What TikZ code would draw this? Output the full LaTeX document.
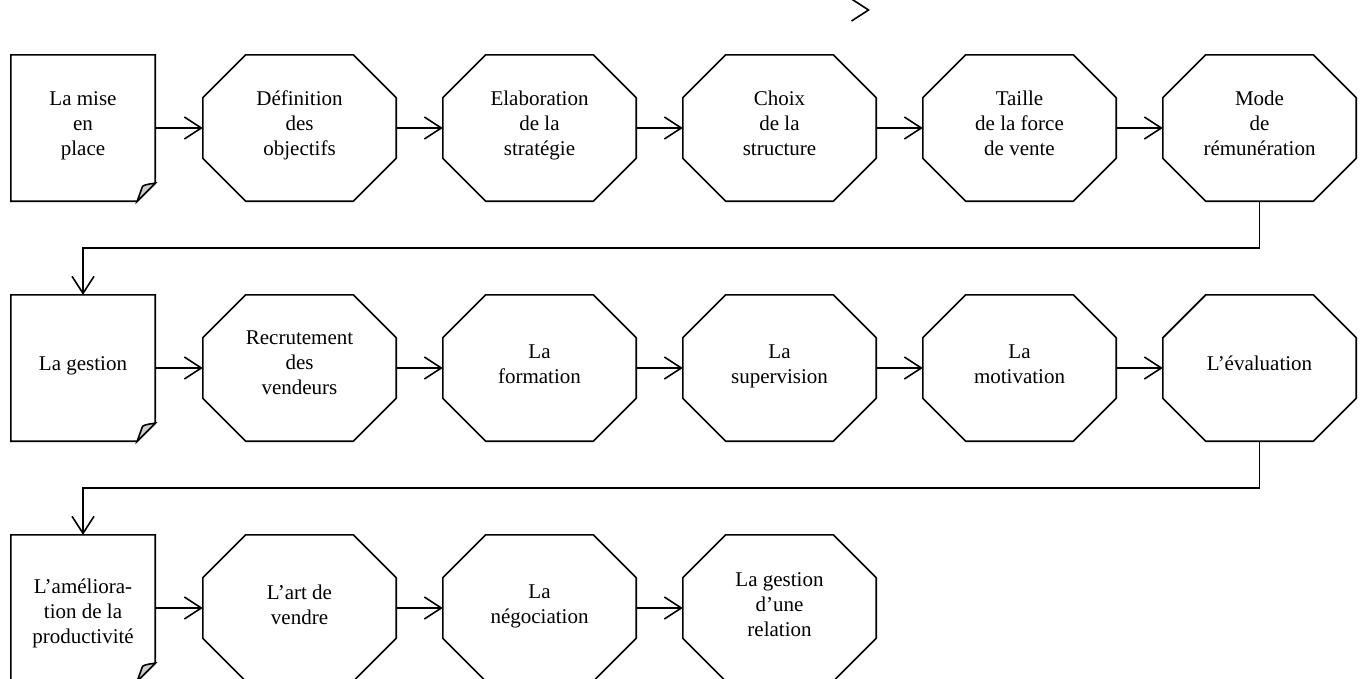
\documentclass[tikz,border=0pt]{standalone}
\usepackage{fontspec}
\setmainfont{Liberation Serif}
\usetikzlibrary{arrows.meta}
\begin{document}
\begin{tikzpicture}[x=1pt,y=-1pt,
  lw/.style={line width=1.6pt},
  arr/.style={lw,-{Straight Barb[length=17pt,width=22pt,line width=1.6pt]}},
  octbox/.style={draw=none,minimum width=193pt,minimum height=146pt,inner sep=0pt},
  notebox/.style={draw=none,minimum width=144pt,minimum height=146pt,inner sep=0pt},
  label/.style={align=center,inner sep=0pt,font=\fontsize{21}{25}\selectfont,
     execute at begin node=\strut, execute at end node=\strut},
  foldcol/.style={fill=black!20}
]
\useasboundingbox (0,0) rectangle (1363,678);
\newcommand{\octagon}[1]{%
  \draw[lw,line join=miter] ([xshift=43pt]#1.north west) -- ([xshift=-43pt]#1.north east)
   -- ([yshift=-43pt]#1.north east) -- ([yshift=43pt]#1.south east)
   -- ([xshift=-43pt]#1.south east) -- ([xshift=43pt]#1.south west)
   -- ([yshift=43pt]#1.south west) -- ([yshift=-43pt]#1.north west) -- cycle;}
\newcommand{\notepaper}[1]{%
  \draw[lw] (#1.south west) -- (#1.north west) -- (#1.north east)
   -- ([yshift=18pt]#1.south east) -- ([xshift=-18pt]#1.south east) -- cycle;
  \draw[lw,foldcol] ([yshift=18pt]#1.south east) .. controls ([xshift=-8pt,yshift=17pt]#1.south east) and ([xshift=-13pt,yshift=16pt]#1.south east) .. ([xshift=-13pt,yshift=14pt]#1.south east)
   -- ([xshift=-18pt]#1.south east) -- cycle;}
% row 1
\node[notebox] (a1) at (83,128) {};
\node[octbox] (a2) at (299.5,128) {};
\node[octbox] (a3) at (539.5,128) {};
\node[octbox] (a4) at (779.5,128) {};
\node[octbox] (a5) at (1019.5,128) {};
\node[octbox] (a6) at (1259.5,128) {};
% row 2
\node[notebox] (b1) at (83,368) {};
\node[octbox] (b2) at (299.5,368) {};
\node[octbox] (b3) at (539.5,368) {};
\node[octbox] (b4) at (779.5,368) {};
\node[octbox] (b5) at (1019.5,368) {};
\node[octbox] (b6) at (1259.5,368) {};
% row 3
\node[notebox] (c1) at (83,608) {};
\node[octbox] (c2) at (299.5,608) {};
\node[octbox] (c3) at (539.5,608) {};
\node[octbox] (c4) at (779.5,608) {};
\notepaper{a1}\notepaper{b1}\notepaper{c1}
\foreach \n in {a2,a3,a4,a5,a6,b2,b3,b4,b5,b6,c2,c3,c4}{\octagon{\n}}
% texts
\node[label] (ta1) at ([yshift=1pt]a1.center) {La mise\\en\\place};
\node[label] (ta2) at ([yshift=1pt]a2.center) {Définition\\des\\objectifs};
\node[label] (ta3) at ([yshift=1pt]a3.center) {Elaboration\\de la\\stratégie};
\node[label] (ta4) at ([yshift=1pt]a4.center) {Choix\\de la\\structure};
\node[label] (ta5) at ([yshift=1pt]a5.center) {Taille\\de la force\\de vente};
\node[label] (ta6) at ([yshift=1pt]a6.center) {Mode\\de\\rémunération};
\node[label] (tb1) at ([yshift=3pt]b1.center) {La gestion};
\node[label] (tb2) at ([yshift=2pt]b2.center) {Recrutement\\des\\vendeurs};
\node[label] (tb3) at ([yshift=0pt]b3.center) {La\\formation};
\node[label] (tb4) at ([yshift=0pt]b4.center) {La\\supervision};
\node[label] (tb5) at ([yshift=0pt]b5.center) {La\\motivation};
\node[label] (tb6) at ([yshift=3pt]b6.center) {L’évaluation};
\node[label] (tc1) at ([yshift=-7pt]c1.center) {L’améliora-\\tion de la\\productivité};
\node[label] (tc2) at ([yshift=0pt]c2.center) {L’art de\\vendre};
\node[label] (tc3) at ([yshift=0pt]c3.center) {La\\négociation};
\node[label] (tc4) at ([yshift=0pt]c4.center) {La gestion\\d’une\\relation};
% connectors
\draw[arr] (a1.east) -- (a2.west);
\draw[arr] (a2.east) -- (a3.west);
\draw[arr] (a3.east) -- (a4.west);
\draw[arr] (a4.east) -- (a5.west);
\draw[arr] (a5.east) -- (a6.west);
\draw[arr] (a6.south) -- ++(0,47) -| (b1.north);
\draw[arr] (b1.east) -- (b2.west);
\draw[arr] (b2.east) -- (b3.west);
\draw[arr] (b3.east) -- (b4.west);
\draw[arr] (b4.east) -- (b5.west);
\draw[arr] (b5.east) -- (b6.west);
\draw[arr] (b6.south) -- ++(0,47) -| (c1.north);
\draw[arr] (c1.east) -- (c2.west);
\draw[arr] (c2.east) -- (c3.west);
\draw[arr] (c3.east) -- (c4.west);
% stray arrowhead
\coordinate (s1) at (868,10);
\coordinate (s2) at (870,10);
\draw[arr] (s1) -- (s2);
\end{tikzpicture}
\end{document}
